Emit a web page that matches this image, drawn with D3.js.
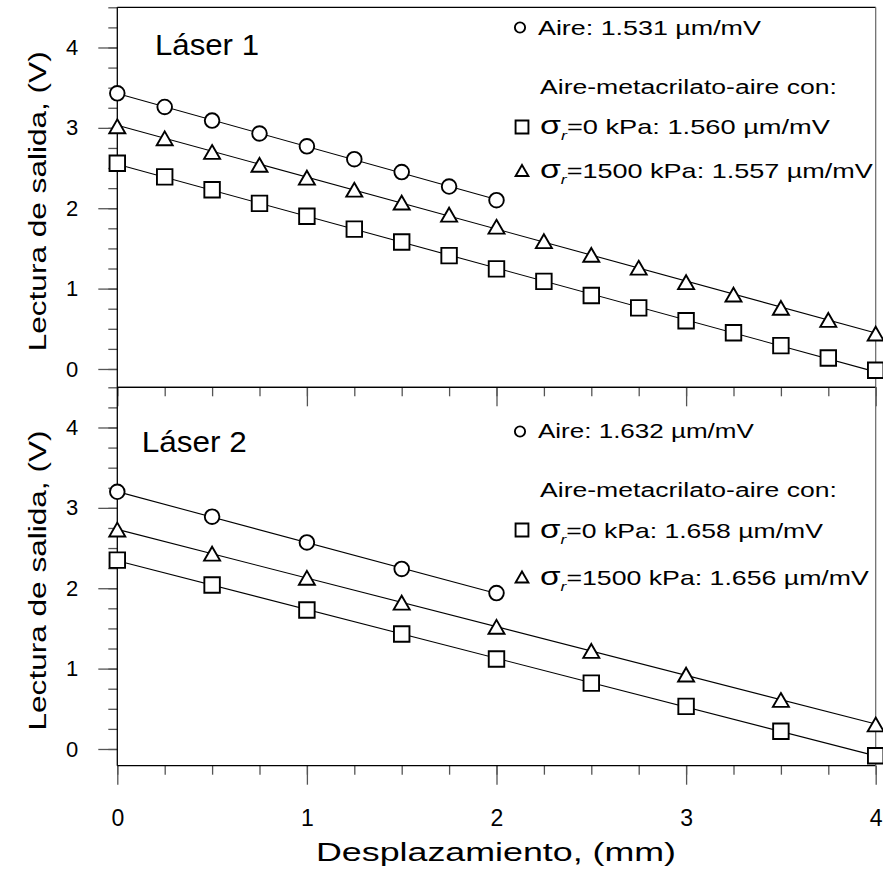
<!DOCTYPE html>
<html lang="es">
<head>
<meta charset="UTF-8">
<title>Lectura de salida</title>
<script src="https://d3js.org/d3.v7.min.js"></script>
<style>
    body { margin: 0; background: #fff; }
    svg { display: block; font-family: 'Liberation Sans', Arial, sans-serif; }
    .tick line { stroke: #555; stroke-width: 1.3; }
    .tick text { fill: #000; }
</style>
</head>
<body>
<svg id="chart" width="883" height="871"></svg>
<script>
    // ---- data ----
    let xAire1 = [0, 0.25, 0.5, 0.75, 1, 1.25, 1.5, 1.75, 2]
    let yAire1 = [3.43, 3.26, 3.09, 2.93, 2.77, 2.61, 2.45, 2.27, 2.10]
    let xMeta1 = [0, 0.25, 0.5, 0.75, 1, 1.25, 1.5, 1.75, 2, 2.25, 2.5, 2.75, 3, 3.25, 3.5, 3.75, 4]
    let ySq1 = [2.56, 2.39, 2.23, 2.06, 1.90, 1.74, 1.58, 1.41, 1.245, 1.09, 0.915, 0.76, 0.60, 0.45, 0.29, 0.137, -0.016]
    let yTri1 = [3.02, 2.87, 2.70, 2.54, 2.38, 2.23, 2.07, 1.92, 1.77, 1.59, 1.42, 1.26, 1.08, 0.925, 0.76, 0.61, 0.44]

    let xAire2 = [0, 0.5, 1, 1.5, 2]
    let yAire2 = [3.20, 2.89, 2.57, 2.24, 1.94]
    let xMeta2 = [0, 0.5, 1, 1.5, 2, 2.5, 3, 3.5, 4]
    let ySq2 = [2.35, 2.04, 1.73, 1.43, 1.12, 0.82, 0.53, 0.22, -0.085]
    let yTri2 = [2.73, 2.43, 2.13, 1.82, 1.52, 1.22, 0.925, 0.61, 0.305]

    let sens1 = ["1.531", "1.560", "1.557"]
    let sens2 = ["1.632", "1.658", "1.656"]
    let stress = ["0", "1500"]
    let xTicks = [0, 1, 2, 3, 4]
    let yTicks = [0, 1, 2, 3, 4]

    const svg = d3.select("#chart")
    const FONT = "'Liberation Sans', Arial, sans-serif"

    const x = d3.scaleLinear().domain([0, 4]).range([117.3, 875.7])
    const minorX = d3.range(0, 4.001, 0.25)

    // stretch a horizontal text to a measured width
    function fitWidth(t, x0, w) {
        let cur = t.node().getComputedTextLength()
        let sx = w / cur
        t.attr("transform", `translate(${x0},0) scale(${sx},1) translate(${-x0},0)`)
    }

    function linFit(xs, ys) {
        let mx = d3.mean(xs), my = d3.mean(ys)
        let sxy = d3.sum(xs, (v, i) => (v - mx) * (ys[i] - my))
        let sxx = d3.sum(xs, v => (v - mx) * (v - mx))
        let b = sxy / sxx
        return {a: my - b * mx, b: b}
    }

    const triPath = s => {
        // equilateral triangle, bbox centred on the point
        let h = s * Math.sqrt(3) / 2
        return `M0,${-h / 2}L${s / 2},${h / 2}L${-s / 2},${h / 2}Z`
    }

    function drawMarker(g, kind, px, py, scale) {
        let k = scale || 1
        let d
        if (kind === "circle") d = d3.symbol().type(d3.symbolCircle).size(Math.PI * 7.3 * 7.3 * k * k)()
        else if (kind === "square") d = d3.symbol().type(d3.symbolSquare).size(15.5 * 15.5 * k * k)()
        else d = triPath(16 * k)
        g.append("path")
            .attr("d", d)
            .attr("transform", `translate(${px},${py})`)
            .attr("fill", "#fff")
            .attr("stroke", "#000")
            .attr("stroke-width", 1.9)
    }

    const panels = [
        {top: 7.3, bottom: 387.3, dom: [-0.228, 4.5], title: "Láser 1", tx: 155, ty: 55, tw: 104,
            series: [[xAire1, yAire1, "circle"], [xMeta1, ySq1, "square"], [xMeta1, yTri1, "triangle"]],
            sens: sens1,
            leg: {c: 27.5, cb: 35, cw: 223, mb: 94, s0: 127, s0b: 134.5, s0w: 290, s1: 170.5, s1b: 178, s1w: 333}},
        {top: 387.3, bottom: 765.7, dom: [-0.208, 4.5], title: "Láser 2", tx: 141.7, ty: 451.7, tw: 105,
            series: [[xAire2, yAire2, "circle"], [xMeta2, ySq2, "square"], [xMeta2, yTri2, "triangle"]],
            sens: sens2,
            leg: {c: 431.5, cb: 438.5, cw: 216, mb: 497, s0: 530, s0b: 538, s0w: 283, s1: 577, s1b: 585.5, s1w: 329}}
    ]

    panels.forEach(function (p, pi) {
        const y = d3.scaleLinear().domain(p.dom).range([p.bottom, p.top])
        const g = svg.append("g")

        // y ticks: minor every 0.25, major on integers
        const minorY = d3.range(0, 4.501, 0.25).filter(v => v >= p.dom[0])
        g.append("g").attr("transform", "translate(117.3,0)")
            .call(d3.axisLeft(y).tickValues(minorY).tickSize(9).tickFormat(""))
            .call(a => a.select(".domain").remove())
        g.append("g").attr("transform", "translate(117.3,0)")
            .call(d3.axisLeft(y).tickValues(yTicks).tickSize(19).tickPadding(20).tickFormat(d3.format("d")))
            .call(a => a.select(".domain").remove())
            .call(a => a.selectAll("text").attr("font-size", 22).attr("font-family", FONT))

        // x ticks below each panel
        g.append("g").attr("transform", `translate(0,${p.bottom})`)
            .call(d3.axisBottom(x).tickValues(minorX).tickSize(9).tickFormat(""))
            .call(a => a.select(".domain").remove())
        g.append("g").attr("transform", `translate(0,${p.bottom})`)
            .call(d3.axisBottom(x).tickValues(xTicks).tickSize(19).tickPadding(25)
                .tickFormat(pi === 1 ? d3.format("d") : ""))
            .call(a => a.select(".domain").remove())
            .call(a => a.selectAll("text").attr("font-size", 23).attr("font-family", FONT))

        // frame
        g.append("line").attr("x1", 117.3).attr("x2", 875.7).attr("y1", p.top).attr("y2", p.top)
            .attr("stroke", "#000").attr("stroke-width", 1.2)
        g.append("line").attr("x1", 117.3).attr("x2", 875.7).attr("y1", p.bottom).attr("y2", p.bottom)
            .attr("stroke", "#000").attr("stroke-width", 1.2)
        g.append("line").attr("x1", 875.7).attr("x2", 875.7).attr("y1", p.top).attr("y2", p.bottom)
            .attr("stroke", "#666").attr("stroke-width", 1.2)
        g.append("line").attr("x1", 117.3).attr("x2", 117.3).attr("y1", p.top).attr("y2", p.bottom)
            .attr("stroke", "#000").attr("stroke-width", 1.3)

        // fitted lines
        p.series.forEach(function (s) {
            let f = linFit(s[0], s[1])
            let x0 = d3.min(s[0]), x1 = d3.max(s[0])
            g.append("line")
                .attr("x1", x(x0)).attr("y1", y(f.a + f.b * x0))
                .attr("x2", x(x1)).attr("y2", y(f.a + f.b * x1))
                .attr("stroke", "#000").attr("stroke-width", 1.1)
        })
        // markers
        p.series.forEach(function (s) {
            s[0].forEach((xv, i) => drawMarker(g, s[2], x(xv), y(s[1][i])))
        })

        // panel title
        g.append("text").attr("x", p.tx).attr("y", p.ty)
            .attr("font-size", 30).attr("font-family", FONT)
            .attr("textLength", p.tw).attr("lengthAdjust", "spacingAndGlyphs")
            .text(p.title)

        // legend
        const L = p.leg
        drawMarker(g, "circle", 520, L.c, 0.7)
        const t0 = g.append("text").attr("x", 538).attr("y", L.cb)
            .attr("font-size", 20).attr("font-family", FONT)
            .text("Aire: " + p.sens[0] + " µm/mV")
        fitWidth(t0, 538, L.cw)

        const tm = g.append("text").attr("x", 540).attr("y", L.mb)
            .attr("font-size", 20).attr("font-family", FONT)
            .text("Aire-metacrilato-aire con:")
        fitWidth(tm, 540, 297)

        const rows = [[L.s0, L.s0b, L.s0w, "square", 0.83], [L.s1, L.s1b, L.s1w, "triangle", 0.8]]
        rows.forEach(function (r, j) {
            drawMarker(g, r[3], 522, r[0], r[4])
            const t = g.append("text").attr("x", 540).attr("y", r[1])
                .attr("font-size", 20).attr("font-family", FONT)
            t.append("tspan").attr("font-size", 25).text("σ")
            t.append("tspan").attr("font-size", 13).attr("font-style", "italic").attr("dy", 6).text("r")
            t.append("tspan").attr("dy", -6).text("=" + stress[j] + " kPa: " + p.sens[j + 1] + " µm/mV")
            fitWidth(t, 540, r[2])
        })

        // y axis title
        let cy = (p.top + p.bottom) / 2 + 4
        g.append("text")
            .attr("transform", `translate(46,${cy}) rotate(-90)`)
            .attr("text-anchor", "middle")
            .attr("font-size", 23).attr("font-family", FONT)
            .attr("textLength", 300).attr("lengthAdjust", "spacingAndGlyphs")
            .text("Lectura de salida, (V)")
    })

    // x axis title
    svg.append("text").attr("x", 496).attr("y", 861)
        .attr("text-anchor", "middle")
        .attr("font-size", 26).attr("font-family", FONT)
        .attr("textLength", 360).attr("lengthAdjust", "spacingAndGlyphs")
        .text("Desplazamiento, (mm)")
</script>
</body>
</html>
